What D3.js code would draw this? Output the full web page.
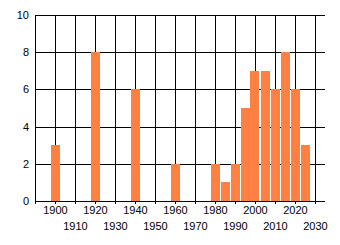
<!DOCTYPE html>
<html>
<head>
<meta charset="utf-8">
<script src="https://cdn.jsdelivr.net/npm/d3@7"></script>
<style>
  body { margin: 0; background: #fff; }
  text { font-family: "Liberation Sans", Arial, sans-serif; font-size: 11px; fill: #000; }
</style>
</head>
<body>
<svg id="chart" width="340" height="245"></svg>
<script>
var years = [1900, 1920, 1940, 1960, 1980, 1985, 1990, 1995, 2000, 2005, 2010, 2015, 2020, 2025];
var counts = [3, 8, 6, 2, 2, 1, 2, 5, 7, 7, 6, 8, 6, 3];
var decadeTicks = d3.range(1890, 2031, 10);
var yTicks = [0, 2, 4, 6, 8, 10];

var svg = d3.select("#chart"),
    margin = {top: 15, left: 35, right: 15, bottom: 44},
    width = 340 - margin.left - margin.right,
    height = 245 - margin.top - margin.bottom;

var x = d3.scaleLinear().domain([1890, 2035]).range([margin.left, margin.left + width]);
var y = d3.scaleLinear().domain([0, 10]).range([margin.top + height, margin.top]);

var barW = x(1904.5) - x(1900);

// grid (drawn first, bars sit on top)
var grid = svg.append("g").attr("stroke", "#000").attr("shape-rendering", "crispEdges");
grid.selectAll("line.v")
    .data(decadeTicks)
    .enter()
    .append("line")
    .attr("class", "v")
    .attr("x1", function(d) { return Math.round(x(d)) + 0.5; })
    .attr("x2", function(d) { return Math.round(x(d)) + 0.5; })
    .attr("y1", y(10))
    .attr("y2", y(0) + 3);
grid.selectAll("line.h")
    .data(yTicks)
    .enter()
    .append("line")
    .attr("class", "h")
    .attr("x1", x(1890))
    .attr("x2", x(2035))
    .attr("y1", function(d) { return Math.round(y(d)) + 0.5; })
    .attr("y2", function(d) { return Math.round(y(d)) + 0.5; });

// bars
svg.append("g")
    .selectAll("rect")
    .data(years)
    .enter()
    .append("rect")
    .attr("x", function(d) { return Math.round(x(d) - barW / 2); })
    .attr("y", function(d, i) { return Math.round(y(counts[i])); })
    .attr("width", barW)
    .attr("height", function(d, i) { return Math.round(y(0)) - Math.round(y(counts[i])); })
    .attr("fill", "#ff8040");

// y labels
svg.append("g")
    .selectAll("text")
    .data(yTicks)
    .enter()
    .append("text")
    .attr("x", x(1890) - 6)
    .attr("y", function(d) { return y(d) + 4; })
    .attr("text-anchor", "end")
    .text(function(d) { return d; });

// x labels, staggered in two rows
svg.append("g")
    .selectAll("text")
    .data(decadeTicks.filter(function(d) { return d > 1890; }))
    .enter()
    .append("text")
    .attr("x", function(d) { return x(d) + 0.5; })
    .attr("y", function(d) { return (d % 20 === 0) ? 214 : 230; })
    .attr("text-anchor", "middle")
    .text(function(d) { return d; });
</script>
</body>
</html>
